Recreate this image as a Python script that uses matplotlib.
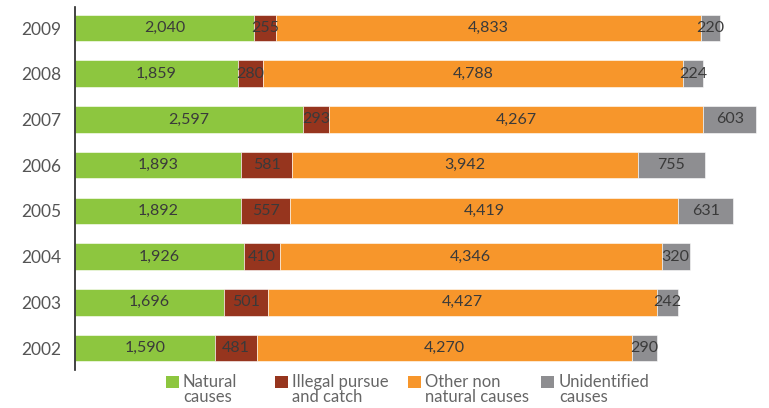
import matplotlib
matplotlib.use("Agg")
import matplotlib.pyplot as plt
from matplotlib.patches import Rectangle
import numpy as np

years = ["2002", "2003", "2004", "2005", "2006", "2007", "2008", "2009"]
natural = [1590, 1696, 1926, 1892, 1893, 2597, 1859, 2040]
illegal = [481, 501, 410, 557, 581, 293, 280, 255]
other = [4270, 4427, 4346, 4419, 3942, 4267, 4788, 4833]
unidentified = [290, 242, 320, 631, 755, 603, 224, 220]

series = [natural, illegal, other, unidentified]
labels = ["Natural\ncauses", "Illegal pursue\nand catch", "Other non\nnatural causes", "Unidentified\ncauses"]
colors = ["#8DC63F", "#96351E", "#F7962B", "#8E8E91"]

plt.rcParams['font.family'] = ['Lato', 'DejaVu Sans']

W, H = 769, 408
fig = plt.figure(figsize=(W / 100, H / 100), dpi=100)
ax = fig.add_axes([75 / W, 38 / H, 1 - 75 / W, (370 - 7) / H])

y = np.arange(len(years))
left = np.zeros(len(years))
for vals, col in zip(series, colors):
    vals = np.array(vals, dtype=float)
    ax.barh(y, vals, left=left, height=0.58, color=col,
            edgecolor="white", linewidth=0.4)
    for yi, l, v in zip(y, left, vals):
        ax.text(l + v / 2, yi, f"{int(v):,}", ha="center", va="center",
                fontsize=11.5, color="#3a3a3a")
    left += vals

ax.set_xlim(0, 7905)
ax.set_ylim(-0.48, 7.46)
ax.set_yticks(y)
ax.set_yticklabels(years, fontsize=12.5, color="#555555")
ax.tick_params(axis="y", length=0, pad=10)
ax.set_xticks([])
for s in ["top", "right", "bottom"]:
    ax.spines[s].set_visible(False)
ax.spines["left"].set_linewidth(1.2)
ax.spines["left"].set_color("#222222")

# legend drawn manually (square aligned with first text line)
sq_x = [166, 275, 408, 541]
txt_x = [183, 292, 425, 559]
for sx, tx, lab, col in zip(sq_x, txt_x, labels, colors):
    fig.patches.append(Rectangle((sx / W, 1 - 388 / H), 13 / W, 12 / H,
                                 transform=fig.transFigure, facecolor=col,
                                 edgecolor="none"))
    fig.text(tx / W, 1 - 374 / H, lab, ha="left", va="top", fontsize=12,
             color="#666666", linespacing=0.95)

fig.savefig("out.png", dpi=100)
